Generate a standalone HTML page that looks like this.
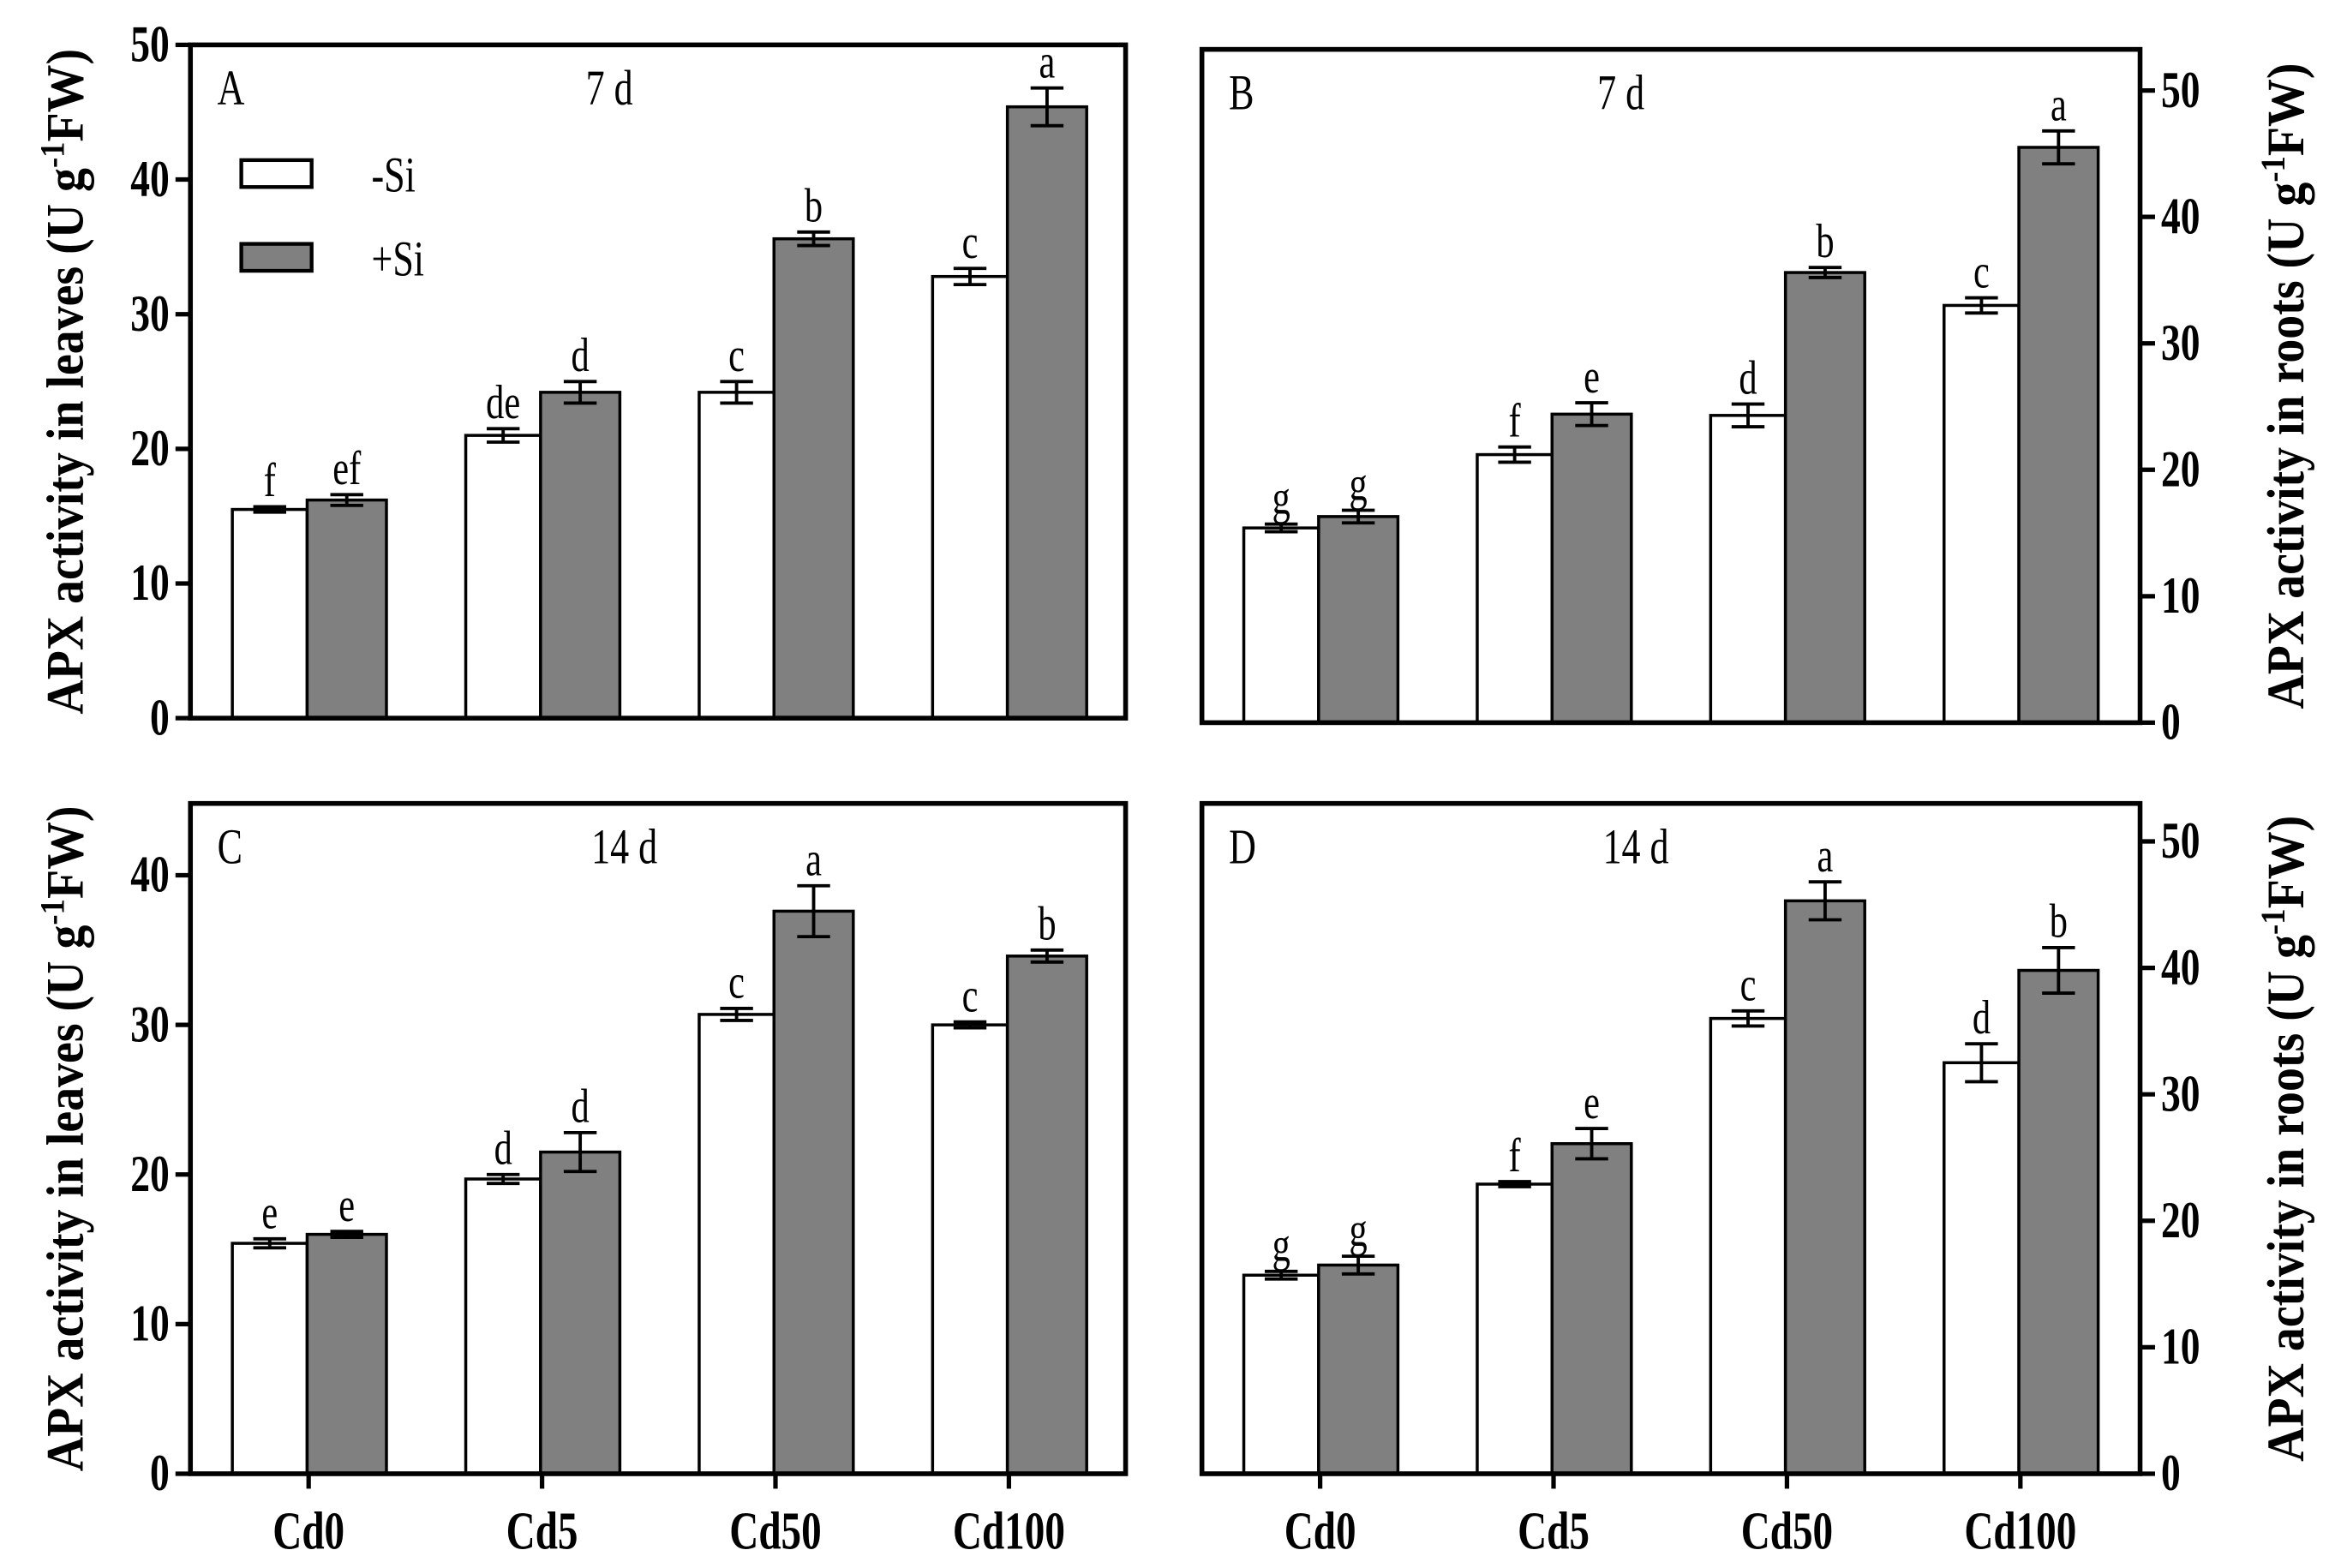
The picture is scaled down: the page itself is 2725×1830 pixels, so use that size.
<!DOCTYPE html>
<html><head><meta charset="utf-8"><style>
html,body{margin:0;padding:0;background:#fff;}
svg{display:block;}
text{font-family:"Liberation Serif",serif;fill:#000;}
</style></head><body>
<svg id="fig" width="2725" height="1830" viewBox="0 0 1560 1048" xmlns="http://www.w3.org/2000/svg"></svg>
<script>
const categories = ["Cd0","Cd5","Cd50","Cd100"];
const aNoSi = [15.5,21.0,24.2,32.8], aNoSiErr=[0.2,0.5,0.8,0.6], aSi=[16.2,24.2,35.6,45.4], aSiErr=[0.4,0.8,0.5,1.4];
const aLabNo=["f","de","c","c"], aLabSi=["ef","d","b","a"];
const bNoSi = [15.4,21.2,24.3,33.0], bNoSiErr=[0.3,0.6,0.9,0.6], bSi=[16.3,24.4,35.6,45.5], bSiErr=[0.5,0.9,0.4,1.3];
const bLabNo=["g","f","d","c"], bLabSi=["g","e","b","a"];
const cNoSi = [15.4,19.7,30.7,30.0], cNoSiErr=[0.3,0.3,0.4,0.2], cSi=[16.0,21.5,37.6,34.6], cSiErr=[0.2,1.3,1.7,0.4];
const cLabNo=["e","d","c","c"], cLabSi=["e","d","a","b"];
const dNoSi = [15.7,22.9,36.0,32.5], dNoSiErr=[0.3,0.2,0.6,1.5], dSi=[16.5,26.1,45.3,39.8], dSiErr=[0.7,1.2,1.5,1.8];
const dLabNo=["g","f","c","d"], dLabSi=["g","e","a","b"];
const ticksA=[0,10,20,30,40,50], ticksB=[0,10,20,30,40,50], ticksC=[0,10,20,30,40], ticksD=[0,10,20,30,40,50];

const NS="http://www.w3.org/2000/svg";
const svg=document.getElementById('fig');
function mk(tag,attrs,parent,txt){const e=document.createElementNS(NS,tag);for(const k in attrs)e.setAttribute(k,attrs[k]);if(txt!==undefined)e.textContent=txt;(parent||svg).appendChild(e);return e;}
// vertically-stretched text helper (reference glyphs are tall/condensed)
function tt(x,y,attrs,parent,txt){
  const a=Object.assign({x:0,y:0,transform:`translate(${x} ${y}) scale(0.9 1.2)`},attrs);
  return mk('text',a,parent,txt);
}

function panel(o){
  const g=mk('g',{});
  
  
  const y=v=>o.bottom-(v/o.max)*(o.bottom-o.top);
  const gx=i=>o.left+79+i*156;
  for(let i=0;i<categories.length;i++){
    const c=gx(i);
    [[o.no,o.noErr,o.labNo,'#fff',c-51,c-1,'no-si'],[o.si,o.siErr,o.labSi,'#808080',c-1,c+52,'si']].forEach(s=>{
      const v=s[0][i],e=s[1][i],x0=s[4],x1=s[5],mid=(x0+x1)/2;
      const r=mk('rect',{x:x0,y:y(v),width:x1-x0,height:o.bottom-y(v),fill:s[3],stroke:'#000','stroke-width':2},g);
      
      
      const eb=mk('path',{d:`M${mid-11},${y(v+e)}H${mid+11}M${mid},${y(v+e)}V${y(v-e)}M${mid-11},${y(v-e)}H${mid+11}`,stroke:'#000','stroke-width':2.2,fill:'none'},g);
      
      
      const t=tt(mid,y(v+e)-7,{'text-anchor':'middle','font-size':27},g,s[2][i]);
      
      
    });
    if(o.xlabels){
      mk('line',{x1:c,x2:c,y1:o.bottom,y2:o.bottom+10,stroke:'#000','stroke-width':3},g);
      const t=tt(c,o.bottom+50,{'text-anchor':'middle','font-size':30,'font-weight':'bold'},g,categories[i]);
      
      
    }
  }
  const f=mk('rect',{x:o.left,y:o.top,width:o.right-o.left,height:o.bottom-o.top,fill:'none',stroke:'#000','stroke-width':3.2},g);
  
  
  const ax=o.rightAxis?o.right:o.left, dir=o.rightAxis?1:-1;
  o.ticks.forEach(tv=>{
    mk('line',{x1:ax,x2:ax+dir*10,y1:y(tv),y2:y(tv),stroke:'#000','stroke-width':3},g);
    const t=tt(ax+dir*14,y(tv)+11,{'text-anchor':o.rightAxis?'start':'end','font-size':29,'font-weight':'bold'},g,tv);
    
    
  });
  const tx=o.rightAxis?1539:55, ty=(o.top+o.bottom)/2;
  const at=mk('text',{x:0,y:0,transform:`translate(${tx} ${ty}) rotate(-90) scale(1 1.1)`,'text-anchor':'middle','font-size':32,'font-weight':'bold'},g);
  
  
  mk('tspan',{},at,o.title+' (U g');
  mk('tspan',{'baseline-shift':'super','font-size':21},at,'-1');
  mk('tspan',{},at,'FW)');
  const pl=tt(o.left+18,o.top+40,{'font-size':28},g,o.letter);
  
  
  const dl=tt(o.left+o.dayX,o.top+40,{'text-anchor':'middle','font-size':28},g,o.day);
  
  
}
panel({letter:'A',day:'7 d',dayX:280,left:127,right:752,top:30,bottom:480,max:50,no:aNoSi,noErr:aNoSiErr,si:aSi,siErr:aSiErr,labNo:aLabNo,labSi:aLabSi,ticks:ticksA,title:'APX activity in leaves'});
panel({letter:'B',day:'7 d',dayX:280,left:803,right:1430,top:33,bottom:483,max:53.25,no:bNoSi,noErr:bNoSiErr,si:bSi,siErr:bSiErr,labNo:bLabNo,labSi:bLabSi,ticks:ticksB,rightAxis:true,title:'APX activity in roots'});
panel({letter:'C',day:'14 d',dayX:290,left:127,right:752,top:537,bottom:985,max:44.8,no:cNoSi,noErr:cNoSiErr,si:cSi,siErr:cSiErr,labNo:cLabNo,labSi:cLabSi,ticks:ticksC,xlabels:true,title:'APX activity in leaves'});
panel({letter:'D',day:'14 d',dayX:290,left:803,right:1430,top:537,bottom:985,max:53.0,no:dNoSi,noErr:dNoSiErr,si:dSi,siErr:dSiErr,labNo:dLabNo,labSi:dLabSi,ticks:ticksD,rightAxis:true,xlabels:true,title:'APX activity in roots'});
const lg=mk('g',{});


mk('rect',{x:161,y:107,width:47,height:18,fill:'#fff',stroke:'#000','stroke-width':2.5},lg);
tt(248,128,{'font-size':28},lg,'-Si');
mk('rect',{x:161,y:163,width:47,height:18,fill:'#808080',stroke:'#000','stroke-width':2.5},lg);
tt(248,184,{'font-size':28},lg,'+Si');
</script>
</body></html>
